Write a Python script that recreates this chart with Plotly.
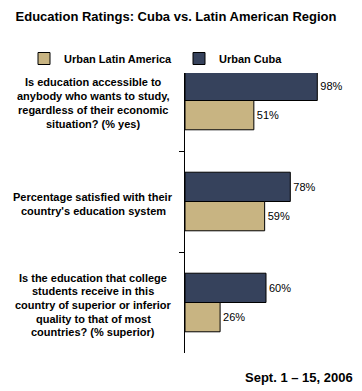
import plotly.graph_objects as go

title = "Education Ratings: Cuba vs. Latin American Region"
categories = [
    "Is education accessible to<br>anybody who wants to study,<br>regardless of their economic<br>situation? (% yes)",
    "Percentage satisfied with their<br>country's education system",
    "Is the education that college<br>students receive in this<br>country of superior or inferior<br>quality to that of most<br>countries? (% superior)",
]
series_names = ["Urban Latin America", "Urban Cuba"]
latin_america = [51, 59, 26]
cuba = [98, 78, 60]
date_note = "Sept. 1 \u2013 15, 2006"

FONT = "Arial, Liberation Sans, sans-serif"
colors = {"Urban Latin America": "#C8B482", "Urban Cuba": "#36425C"}
values = {"Urban Latin America": latin_america, "Urban Cuba": cuba}

L, R, T, B = 185, 42, 50, 38
W, H = 362, 391
PW = W - L - R
PH = H - T - B

fig = go.Figure()
# Cuba first so it sits on top within each group (y axis reversed)
for name in reversed(series_names):
    vals = values[name]
    fig.add_trace(go.Bar(
        y=categories, x=vals, name=name, orientation="h",
        marker=dict(color=colors[name], line=dict(color="#000000", width=1)),
        text=[f"{v}%" for v in vals], textposition="outside",
        textfont=dict(family=FONT, size=11, color="#000000"),
        constraintext="none", cliponaxis=False,
    ))

annotations = []
for cat in categories:
    lines = cat.split("<br>")
    n = len(lines)
    for i, ln in enumerate(lines):
        annotations.append(dict(
            x=(93 - L) / PW, xref="paper", y=cat, yref="y", text=ln,
            showarrow=False, xanchor="center", yanchor="middle",
            yshift=((n - 1) / 2 - i) * 13.7 - 2.5,
            font=dict(family=FONT, size=11, color="#000000", weight="bold"),
        ))
annotations.append(dict(
    x=(355 - L) / PW, xref="paper", y=-(377 - (T + PH)) / PH, yref="paper",
    text=date_note, showarrow=False, xanchor="right", yanchor="middle",
    font=dict(family=FONT, size=13, color="#000000", weight="bold"),
))

fig.update_layout(
    width=W, height=H,
    margin=dict(l=L, r=R, t=T, b=B, autoexpand=False),
    paper_bgcolor="white", plot_bgcolor="white",
    barmode="group", bargap=0.42, bargroupgap=0,
    title=dict(text=title, x=176 / W, xanchor="center",
               y=1 - 16 / H, yref="container", yanchor="middle",
               font=dict(family=FONT, size=13, color="#000000", weight="bold")),
    legend=dict(orientation="h", x=(24 - L) / PW, xref="paper", xanchor="left",
                y=1 + 6 / PH, yref="paper", yanchor="top", bgcolor="white",
                font=dict(family=FONT, size=11, color="#000000", weight="bold"),
                traceorder="reversed", itemwidth=30, tracegroupgap=0,
                entrywidth=110, entrywidthmode="pixels"),
    xaxis=dict(range=[0, 100], visible=False, fixedrange=True),
    yaxis=dict(autorange="reversed", showticklabels=False, tickson="boundaries",
               ticks="outside", ticklen=5, tickcolor="#000000",
               showline=True, linecolor="#000000", linewidth=1,
               showgrid=False, zeroline=False),
    annotations=annotations,
    showlegend=True,
)

fig.write_html("out.html", config={"displayModeBar": False},
               post_script="document.body.style.margin='0';")
